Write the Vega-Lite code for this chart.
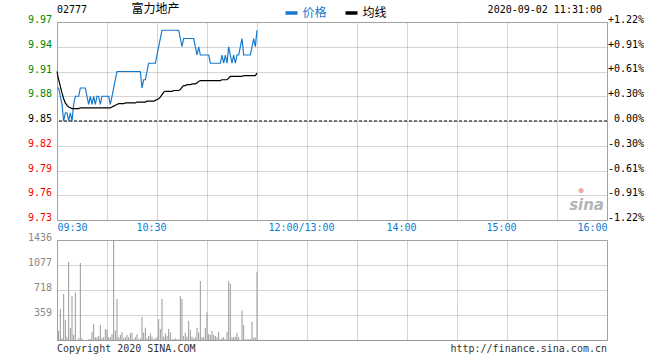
{
  "$schema": "https://vega.github.io/schema/vega-lite/v6.json",
  "background": "white",
  "padding": {"left": 26, "top": 2, "right": 5, "bottom": 5},
  "config": {
    "view": {"stroke": "#999999", "strokeWidth": 1},
    "axis": {"domain": false, "ticks": false, "gridColor": "#aaaaaa", "gridDash": [1, 1], "gridOpacity": 1, "labelFont": "DejaVu Sans Mono", "labelFontSize": 10}
  },
  "datasets": {
    "d": [
      {"m":0,"p":9.89,"a":9.910,"v":0},{"m":1,"p":9.89,"a":9.900,"v":130},{"m":2,"p":9.88,"a":9.892,"v":445},{"m":3,"p":9.87,"a":9.884,"v":30},{"m":4,"p":9.85,"a":9.877,"v":661},
      {"m":5,"p":9.86,"a":9.872,"v":290},{"m":6,"p":9.86,"a":9.869,"v":48},{"m":7,"p":9.85,"a":9.867,"v":1120},{"m":8,"p":9.86,"a":9.866,"v":175},{"m":9,"p":9.85,"a":9.865,"v":630},
      {"m":10,"p":9.87,"a":9.865,"v":75},{"m":11,"p":9.88,"a":9.865,"v":680},{"m":12,"p":9.88,"a":9.865,"v":0},{"m":13,"p":9.88,"a":9.865,"v":25},{"m":14,"p":9.89,"a":9.866,"v":1106},
      {"m":15,"p":9.89,"a":9.866,"v":25},{"m":16,"p":9.89,"a":9.866,"v":0},{"m":17,"p":9.89,"a":9.866,"v":0},{"m":18,"p":9.88,"a":9.866,"v":0},{"m":19,"p":9.87,"a":9.866,"v":10},
      {"m":20,"p":9.88,"a":9.866,"v":15},{"m":21,"p":9.87,"a":9.866,"v":120},{"m":22,"p":9.88,"a":9.866,"v":230},{"m":23,"p":9.87,"a":9.866,"v":40},{"m":24,"p":9.88,"a":9.866,"v":40},
      {"m":25,"p":9.88,"a":9.866,"v":55},{"m":26,"p":9.87,"a":9.866,"v":215},{"m":27,"p":9.88,"a":9.866,"v":25},{"m":28,"p":9.88,"a":9.866,"v":40},{"m":29,"p":9.88,"a":9.866,"v":158},
      {"m":30,"p":9.88,"a":9.866,"v":145},{"m":31,"p":9.88,"a":9.866,"v":40},{"m":32,"p":9.87,"a":9.866,"v":40},{"m":33,"p":9.88,"a":9.867,"v":85},{"m":34,"p":9.89,"a":9.868,"v":1422},
      {"m":35,"p":9.90,"a":9.869,"v":135},{"m":36,"p":9.91,"a":9.870,"v":589},{"m":37,"p":9.91,"a":9.871,"v":40},{"m":38,"p":9.91,"a":9.871,"v":72},{"m":39,"p":9.91,"a":9.871,"v":115},
      {"m":40,"p":9.91,"a":9.871,"v":25},{"m":41,"p":9.91,"a":9.872,"v":40},{"m":42,"p":9.91,"a":9.872,"v":72},{"m":43,"p":9.91,"a":9.872,"v":40},{"m":44,"p":9.91,"a":9.872,"v":95},
      {"m":45,"p":9.91,"a":9.872,"v":105},{"m":46,"p":9.91,"a":9.872,"v":10},{"m":47,"p":9.91,"a":9.872,"v":40},{"m":48,"p":9.91,"a":9.873,"v":85},{"m":49,"p":9.91,"a":9.873,"v":10},
      {"m":50,"p":9.91,"a":9.873,"v":25},{"m":51,"p":9.89,"a":9.873,"v":330},{"m":52,"p":9.90,"a":9.873,"v":105},{"m":53,"p":9.90,"a":9.873,"v":177},{"m":54,"p":9.91,"a":9.874,"v":25},
      {"m":55,"p":9.92,"a":9.874,"v":57},{"m":56,"p":9.92,"a":9.874,"v":95},{"m":57,"p":9.92,"a":9.874,"v":48},{"m":58,"p":9.92,"a":9.874,"v":10},{"m":59,"p":9.92,"a":9.875,"v":25},
      {"m":60,"p":9.93,"a":9.876,"v":40},{"m":61,"p":9.94,"a":9.877,"v":300},{"m":62,"p":9.95,"a":9.879,"v":158},{"m":63,"p":9.96,"a":9.882,"v":589},{"m":64,"p":9.96,"a":9.885,"v":48},
      {"m":65,"p":9.96,"a":9.886,"v":95},{"m":66,"p":9.96,"a":9.886,"v":57},{"m":67,"p":9.96,"a":9.886,"v":158},{"m":68,"p":9.96,"a":9.886,"v":110},{"m":69,"p":9.96,"a":9.886,"v":10},
      {"m":70,"p":9.96,"a":9.887,"v":10},{"m":71,"p":9.96,"a":9.887,"v":25},{"m":72,"p":9.96,"a":9.887,"v":10},{"m":73,"p":9.96,"a":9.887,"v":10},{"m":74,"p":9.95,"a":9.888,"v":632},
      {"m":75,"p":9.94,"a":9.891,"v":589},{"m":76,"p":9.95,"a":9.893,"v":57},{"m":77,"p":9.95,"a":9.893,"v":105},{"m":78,"p":9.95,"a":9.894,"v":48},{"m":79,"p":9.95,"a":9.894,"v":273},
      {"m":80,"p":9.95,"a":9.894,"v":145},{"m":81,"p":9.95,"a":9.895,"v":48},{"m":82,"p":9.95,"a":9.895,"v":25},{"m":83,"p":9.94,"a":9.895,"v":40},{"m":84,"p":9.93,"a":9.896,"v":177},
      {"m":85,"p":9.94,"a":9.898,"v":105},{"m":86,"p":9.93,"a":9.899,"v":847},{"m":87,"p":9.93,"a":9.899,"v":40},{"m":88,"p":9.93,"a":9.899,"v":40},{"m":89,"p":9.93,"a":9.899,"v":177},
      {"m":90,"p":9.93,"a":9.899,"v":397},{"m":91,"p":9.93,"a":9.899,"v":85},{"m":92,"p":9.92,"a":9.899,"v":72},{"m":93,"p":9.92,"a":9.899,"v":130},{"m":94,"p":9.92,"a":9.899,"v":72},
      {"m":95,"p":9.92,"a":9.899,"v":57},{"m":96,"p":9.92,"a":9.899,"v":40},{"m":97,"p":9.92,"a":9.899,"v":120},{"m":98,"p":9.92,"a":9.899,"v":10},{"m":99,"p":9.93,"a":9.900,"v":25},
      {"m":100,"p":9.92,"a":9.900,"v":40},{"m":101,"p":9.93,"a":9.900,"v":10},{"m":102,"p":9.92,"a":9.900,"v":120},{"m":103,"p":9.94,"a":9.902,"v":847},{"m":104,"p":9.93,"a":9.904,"v":809},
      {"m":105,"p":9.92,"a":9.904,"v":40},{"m":106,"p":9.93,"a":9.904,"v":40},{"m":107,"p":9.92,"a":9.904,"v":48},{"m":108,"p":9.93,"a":9.904,"v":105},{"m":109,"p":9.93,"a":9.904,"v":40},
      {"m":110,"p":9.94,"a":9.904,"v":0},{"m":111,"p":9.95,"a":9.904,"v":421},{"m":112,"p":9.93,"a":9.905,"v":215},{"m":113,"p":9.93,"a":9.905,"v":10},{"m":114,"p":9.93,"a":9.905,"v":10},
      {"m":115,"p":9.93,"a":9.905,"v":10},{"m":116,"p":9.93,"a":9.905,"v":15},{"m":117,"p":9.94,"a":9.905,"v":263},{"m":118,"p":9.95,"a":9.905,"v":35},{"m":119,"p":9.94,"a":9.905,"v":35},
      {"m":120,"p":9.96,"a":9.908,"v":981}
    ],
    "one": [{}]
  },
  "bounds": "flush",
  "spacing": 20,
  "vconcat": [
    {
      "width": 550,
      "height": 198,
      "layer": [
        {
          "data": {"name": "d"},
          "layer": [
            {
              "transform": [{"fold": ["p", "a"], "as": ["s", "val"]}],
              "mark": {"type": "line", "strokeWidth": 1.2},
              "encoding": {
                "x": {"field": "m", "type": "quantitative", "scale": {"domain": [0, 330], "nice": false, "zero": false},
                  "axis": {"title": null, "values": [0, 30, 60, 90, 120, 150, 180, 210, 240, 270, 300, 330], "grid": true, "labelExpr": "datum.value == 0 ? '09:30' : datum.value == 60 ? '10:30' : datum.value == 150 ? '12:00/13:00' : datum.value == 210 ? '14:00' : datum.value == 270 ? '15:00' : datum.value == 330 ? '16:00' : ''", "labelFlush": true, "labelOverlap": false, "labelColor": "#0b7bd4", "labelPadding": 2, "labelOffset": {"condition": {"test": "datum.value == 0 || datum.value == 330", "value": 0}, "value": -6}}},
                "y": {"field": "val", "type": "quantitative", "scale": {"domain": [9.73, 9.97], "nice": false, "zero": false},
                  "axis": {"title": null, "values": [9.73, 9.76, 9.79, 9.82, 9.85, 9.88, 9.91, 9.94, 9.97], "grid": true, "format": ".2f", "labelPadding": 5.5, "labelBaseline": "middle", "labelOffset": -2.5, "labelFlush": false, "labelOverlap": false, "labelColor": {"condition": [{"test": "datum.value > 9.851", "value": "#008800"}, {"test": "datum.value < 9.849", "value": "#ff0000"}], "value": "#000000"}}},
                "color": {"field": "s", "type": "nominal", "scale": {"domain": ["p", "a"], "range": ["#1478cc", "#000000"]},
                  "legend": {"orient": "none", "legendX": 226.5, "legendY": -17, "direction": "horizontal", "title": null,
                    "symbolType": "stroke", "symbolStrokeWidth": 3.5, "symbolSize": 144, "labelFont": "Noto Sans CJK SC", "labelFontSize": 12,
                    "labelOffset": 3, "columnPadding": 11, "padding": 0,
                    "labelExpr": "datum.value == 'p' ? '价格' : '均线'",
                    "encode": {"labels": {"update": {"fill": {"signal": "datum.value == 'p' ? '#1478cc' : '#000000'"}}}}}}
              }
            },
            {
              "data": {"name": "one"},
              "mark": {"type": "text", "text": "02777", "align": "left", "baseline": "top", "dy": -17, "font": "DejaVu Sans Mono", "fontSize": 10, "color": "#000000"},
              "encoding": {
                "x": {"datum": 0, "type": "quantitative", "scale": {"domain": [0, 330], "nice": false, "zero": false},
                  "axis": {"title": null, "values": [0, 30, 60, 90, 120, 150, 180, 210, 240, 270, 300, 330], "grid": true, "labelExpr": "datum.value == 0 ? '09:30' : datum.value == 60 ? '10:30' : datum.value == 150 ? '12:00/13:00' : datum.value == 210 ? '14:00' : datum.value == 270 ? '15:00' : datum.value == 330 ? '16:00' : ''", "labelFlush": true, "labelOverlap": false, "labelColor": "#0b7bd4", "labelPadding": 2, "labelOffset": {"condition": {"test": "datum.value == 0 || datum.value == 330", "value": 0}, "value": -6}}},
                "y": {"datum": 9.97, "type": "quantitative", "scale": {"domain": [9.73, 9.97], "nice": false, "zero": false},
                  "axis": {"title": null, "values": [9.73, 9.76, 9.79, 9.82, 9.85, 9.88, 9.91, 9.94, 9.97], "grid": true, "format": ".2f", "labelPadding": 5.5, "labelBaseline": "middle", "labelOffset": -2.5, "labelFlush": false, "labelOverlap": false, "labelColor": {"condition": [{"test": "datum.value > 9.851", "value": "#008800"}, {"test": "datum.value < 9.849", "value": "#ff0000"}], "value": "#000000"}}}
              }
            },
            {
              "data": {"name": "one"},
              "mark": {"type": "text", "text": "富力地产", "align": "left", "baseline": "top", "dx": 74.5, "dy": -18, "font": "Noto Sans CJK SC", "fontSize": 12, "color": "#000000"},
              "encoding": {
                "x": {"datum": 0, "type": "quantitative", "scale": {"domain": [0, 330], "nice": false, "zero": false},
                  "axis": {"title": null, "values": [0, 30, 60, 90, 120, 150, 180, 210, 240, 270, 300, 330], "grid": true, "labelExpr": "datum.value == 0 ? '09:30' : datum.value == 60 ? '10:30' : datum.value == 150 ? '12:00/13:00' : datum.value == 210 ? '14:00' : datum.value == 270 ? '15:00' : datum.value == 330 ? '16:00' : ''", "labelFlush": true, "labelOverlap": false, "labelColor": "#0b7bd4", "labelPadding": 2, "labelOffset": {"condition": {"test": "datum.value == 0 || datum.value == 330", "value": 0}, "value": -6}}},
                "y": {"datum": 9.97, "type": "quantitative", "scale": {"domain": [9.73, 9.97], "nice": false, "zero": false},
                  "axis": {"title": null, "values": [9.73, 9.76, 9.79, 9.82, 9.85, 9.88, 9.91, 9.94, 9.97], "grid": true, "format": ".2f", "labelPadding": 5.5, "labelBaseline": "middle", "labelOffset": -2.5, "labelFlush": false, "labelOverlap": false, "labelColor": {"condition": [{"test": "datum.value > 9.851", "value": "#008800"}, {"test": "datum.value < 9.849", "value": "#ff0000"}], "value": "#000000"}}}
              }
            },
            {
              "data": {"name": "one"},
              "mark": {"type": "text", "text": "2020-09-02 11:31:00", "align": "right", "baseline": "top", "dx": -5, "dy": -17, "font": "DejaVu Sans Mono", "fontSize": 10, "color": "#000000"},
              "encoding": {
                "x": {"datum": 330, "type": "quantitative", "scale": {"domain": [0, 330], "nice": false, "zero": false},
                  "axis": {"title": null, "values": [0, 30, 60, 90, 120, 150, 180, 210, 240, 270, 300, 330], "grid": true, "labelExpr": "datum.value == 0 ? '09:30' : datum.value == 60 ? '10:30' : datum.value == 150 ? '12:00/13:00' : datum.value == 210 ? '14:00' : datum.value == 270 ? '15:00' : datum.value == 330 ? '16:00' : ''", "labelFlush": true, "labelOverlap": false, "labelColor": "#0b7bd4", "labelPadding": 2, "labelOffset": {"condition": {"test": "datum.value == 0 || datum.value == 330", "value": 0}, "value": -6}}},
                "y": {"datum": 9.97, "type": "quantitative", "scale": {"domain": [9.73, 9.97], "nice": false, "zero": false},
                  "axis": {"title": null, "values": [9.73, 9.76, 9.79, 9.82, 9.85, 9.88, 9.91, 9.94, 9.97], "grid": true, "format": ".2f", "labelPadding": 5.5, "labelBaseline": "middle", "labelOffset": -2.5, "labelFlush": false, "labelOverlap": false, "labelColor": {"condition": [{"test": "datum.value > 9.851", "value": "#008800"}, {"test": "datum.value < 9.849", "value": "#ff0000"}], "value": "#000000"}}}
              }
            },
            {
              "data": {"name": "one"},
              "mark": {"type": "text", "text": "sina", "align": "right", "baseline": "alphabetic", "dx": -3, "dy": -10, "font": "DejaVu Sans", "fontSize": 15, "fontStyle": "italic", "fontWeight": "bold", "color": "#b5b5b5"},
              "encoding": {
                "x": {"datum": 330, "type": "quantitative", "scale": {"domain": [0, 330], "nice": false, "zero": false},
                  "axis": {"title": null, "values": [0, 30, 60, 90, 120, 150, 180, 210, 240, 270, 300, 330], "grid": true, "labelExpr": "datum.value == 0 ? '09:30' : datum.value == 60 ? '10:30' : datum.value == 150 ? '12:00/13:00' : datum.value == 210 ? '14:00' : datum.value == 270 ? '15:00' : datum.value == 330 ? '16:00' : ''", "labelFlush": true, "labelOverlap": false, "labelColor": "#0b7bd4", "labelPadding": 2, "labelOffset": {"condition": {"test": "datum.value == 0 || datum.value == 330", "value": 0}, "value": -6}}},
                "y": {"datum": 9.73, "type": "quantitative", "scale": {"domain": [9.73, 9.97], "nice": false, "zero": false},
                  "axis": {"title": null, "values": [9.73, 9.76, 9.79, 9.82, 9.85, 9.88, 9.91, 9.94, 9.97], "grid": true, "format": ".2f", "labelPadding": 5.5, "labelBaseline": "middle", "labelOffset": -2.5, "labelFlush": false, "labelOverlap": false, "labelColor": {"condition": [{"test": "datum.value > 9.851", "value": "#008800"}, {"test": "datum.value < 9.849", "value": "#ff0000"}], "value": "#000000"}}}
              }
            },
            {
              "data": {"name": "one"},
              "mark": {"type": "text", "text": "●", "align": "center", "baseline": "middle", "dx": -26, "dy": -30, "fontSize": 12, "color": "#f4a6a6"},
              "encoding": {
                "x": {"datum": 330, "type": "quantitative", "scale": {"domain": [0, 330], "nice": false, "zero": false},
                  "axis": {"title": null, "values": [0, 30, 60, 90, 120, 150, 180, 210, 240, 270, 300, 330], "grid": true, "labelExpr": "datum.value == 0 ? '09:30' : datum.value == 60 ? '10:30' : datum.value == 150 ? '12:00/13:00' : datum.value == 210 ? '14:00' : datum.value == 270 ? '15:00' : datum.value == 330 ? '16:00' : ''", "labelFlush": true, "labelOverlap": false, "labelColor": "#0b7bd4", "labelPadding": 2, "labelOffset": {"condition": {"test": "datum.value == 0 || datum.value == 330", "value": 0}, "value": -6}}},
                "y": {"datum": 9.73, "type": "quantitative", "scale": {"domain": [9.73, 9.97], "nice": false, "zero": false},
                  "axis": {"title": null, "values": [9.73, 9.76, 9.79, 9.82, 9.85, 9.88, 9.91, 9.94, 9.97], "grid": true, "format": ".2f", "labelPadding": 5.5, "labelBaseline": "middle", "labelOffset": -2.5, "labelFlush": false, "labelOverlap": false, "labelColor": {"condition": [{"test": "datum.value > 9.851", "value": "#008800"}, {"test": "datum.value < 9.849", "value": "#ff0000"}], "value": "#000000"}}}
              }
            }
          ]
        },
        {
          "data": {"name": "one"},
          "mark": {"type": "rule", "color": "#000000", "strokeDash": [3, 2], "strokeWidth": 1},
          "encoding": {
            "y": {"datum": 0, "type": "quantitative", "scale": {"domain": [-1.21827, 1.21827], "nice": false, "zero": false},
              "axis": {"title": null, "orient": "right", "values": [-1.21827, -0.91371, -0.60914, -0.30457, 0, 0.30457, 0.60914, 0.91371, 1.21827], "grid": false,
                "labelExpr": "(datum.value > 0.001 ? '+' : datum.value < -0.001 ? '-' : '') + format(abs(datum.value), '.2f') + '%'",
                "labelAlign": "right", "labelPadding": 36.5, "labelBaseline": "middle", "labelOffset": -2.5, "labelFlush": false, "labelOverlap": false,
                "encode": {"labels": {"update": {"fill": {"signal": "datum.value > 0.001 ? '#008800' : datum.value < -0.001 ? '#ff0000' : '#000000'"}}}}}}
          }
        }
      ],
      "resolve": {"scale": {"y": "independent"}}
    },
    {
      "width": 550,
      "height": 100,
      "layer": [
        {
          "data": {"name": "d"},
          "mark": {"type": "rule", "color": "#999999", "strokeWidth": 1},
          "encoding": {
            "x": {"field": "m", "type": "quantitative", "scale": {"domain": [0, 330], "nice": false, "zero": false},
              "axis": {"title": null, "values": [0, 30, 60, 90, 120, 150, 180, 210, 240, 270, 300, 330], "grid": true, "labels": false}},
            "y": {"field": "v", "type": "quantitative", "scale": {"domain": [0, 1436], "nice": false, "zero": true},
              "axis": {"title": null, "values": [359, 718, 1077, 1436], "grid": true, "labelColor": "#888888", "labelPadding": 5.5, "format": "d", "labelBaseline": "middle", "labelOffset": -2.5, "labelFlush": false, "labelOverlap": false}},
            "y2": {"datum": 0}
          }
        },
        {
          "data": {"name": "one"},
          "mark": {"type": "text", "text": "Copyright 2020 SINA.COM", "align": "left", "baseline": "top", "dy": 4, "font": "DejaVu Sans Mono", "fontSize": 10, "color": "#333333"},
          "encoding": {
            "x": {"datum": 0, "type": "quantitative", "scale": {"domain": [0, 330], "nice": false, "zero": false},
              "axis": {"title": null, "values": [0, 30, 60, 90, 120, 150, 180, 210, 240, 270, 300, 330], "grid": true, "labels": false}},
            "y": {"datum": 0, "type": "quantitative", "scale": {"domain": [0, 1436], "nice": false, "zero": true},
              "axis": {"title": null, "values": [359, 718, 1077, 1436], "grid": true, "labelColor": "#888888", "labelPadding": 5.5, "format": "d", "labelBaseline": "middle", "labelOffset": -2.5, "labelFlush": false, "labelOverlap": false}}
          }
        },
        {
          "data": {"name": "one"},
          "mark": {"type": "text", "text": "http://finance.sina.com.cn", "align": "right", "baseline": "top", "dy": 4, "font": "DejaVu Sans Mono", "fontSize": 10, "color": "#333333"},
          "encoding": {
            "x": {"datum": 330, "type": "quantitative", "scale": {"domain": [0, 330], "nice": false, "zero": false},
              "axis": {"title": null, "values": [0, 30, 60, 90, 120, 150, 180, 210, 240, 270, 300, 330], "grid": true, "labels": false}},
            "y": {"datum": 0, "type": "quantitative", "scale": {"domain": [0, 1436], "nice": false, "zero": true},
              "axis": {"title": null, "values": [359, 718, 1077, 1436], "grid": true, "labelColor": "#888888", "labelPadding": 5.5, "format": "d", "labelBaseline": "middle", "labelOffset": -2.5, "labelFlush": false, "labelOverlap": false}}
          }
        }
      ]
    }
  ]
}
